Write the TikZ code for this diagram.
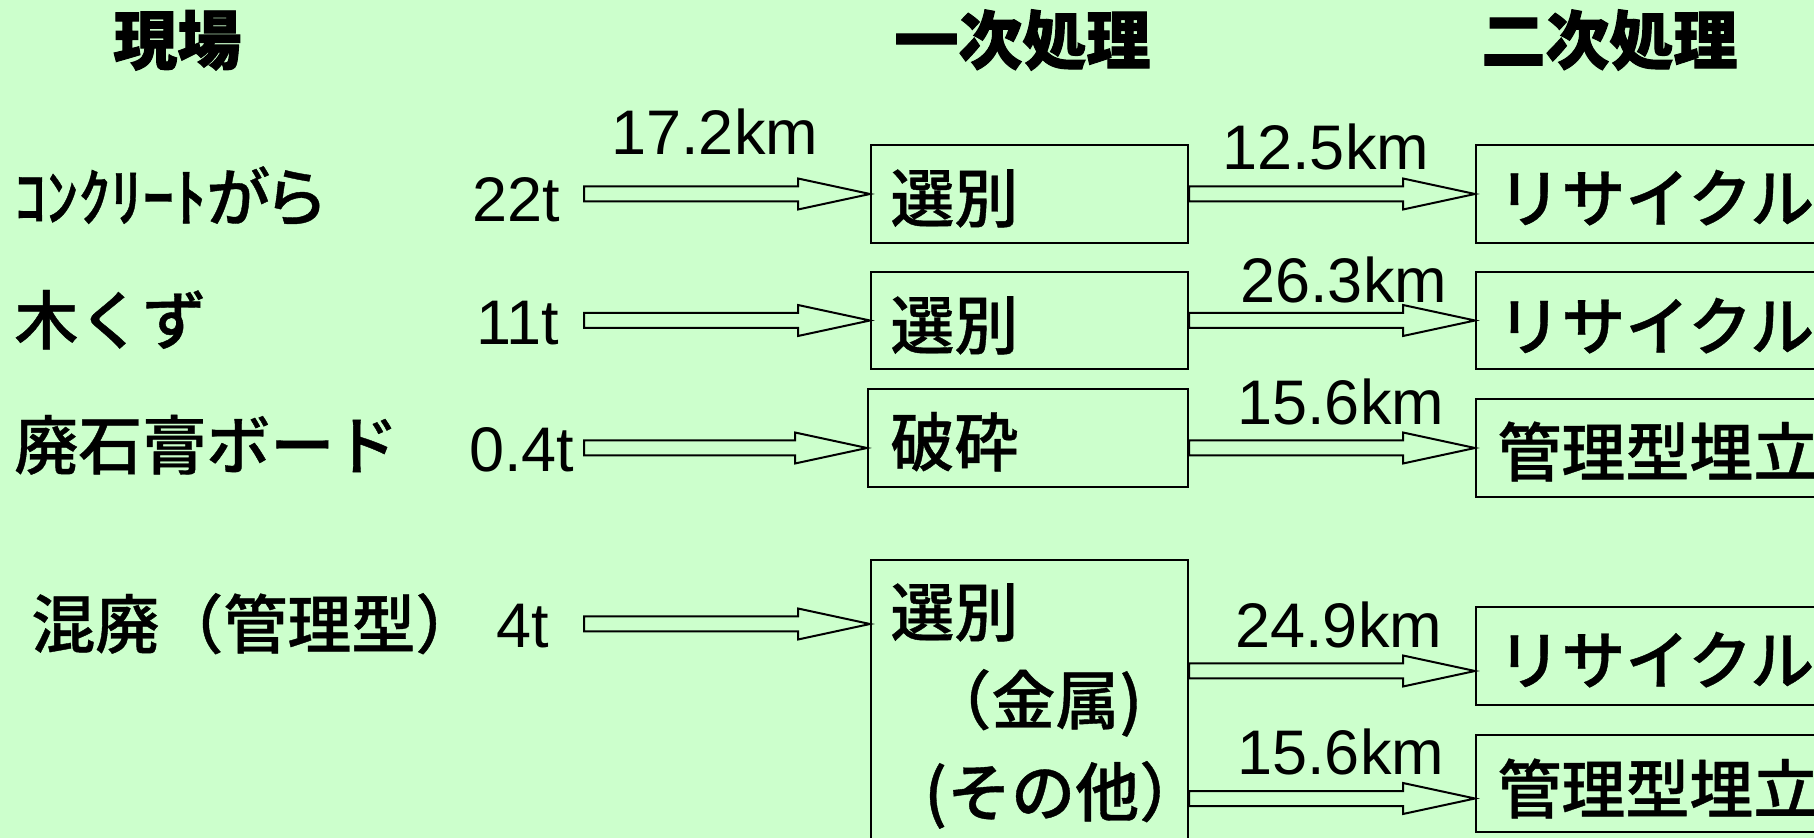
\documentclass[tikz,border=0pt]{standalone}
\usepackage{fontspec}
\setmainfont{Liberation Sans}
\newfontfamily\jp[UprightFont={* Medium},FakeBold=0.6]{Noto Sans CJK JP}
\newfontfamily\jph[BoldFeatures={FakeBold=1.5}]{Noto Sans CJK JP}
\newfontfamily\jpp[UprightFont={* Medium},FakeBold=0.6,RawFeature=+palt]{Noto Sans CJK JP}
\usetikzlibrary{calc}
\definecolor{bg}{HTML}{CCFFCC}
\newcommand{\blockarrow}[2]{%
  \draw[barrow] ($(#1)+(0,-7.5)$) -- ($(#2)+(-72,-7.5)$) -- ($(#2)+(-72,-15.5)$) -- (#2)
    -- ($(#2)+(-72,15.5)$) -- ($(#2)+(-72,7.5)$) -- ($(#1)+(0,7.5)$) -- cycle;}
\tikzset{
  box/.style={draw=black, line width=1pt, rectangle, inner sep=0pt},
  barrow/.style={draw=black, line width=1pt, line join=miter},
  hdr/.style={inner sep=0pt, anchor=base west, font=\jph\bfseries\fontsize{32}{38}\selectfont},
  jt/.style={inner sep=0pt, anchor=base west, font=\jp\fontsize{32}{38}\selectfont},
  num/.style={inner sep=0pt, anchor=base west, font=\fontsize{31.5}{36}\selectfont},
}
\begin{document}
\begin{tikzpicture}[x=0.5pt,y=-0.5pt]
\useasboundingbox (0,0) rectangle (1814,838);
\clip (0,0) rectangle (1814,838);
\fill[bg] (0,0) rectangle (1814,838);

% headers
\node[hdr] (h1) at (113,64) {現場};
\node[hdr] (h2) at (894,64) {一次処理};
\node[hdr] (h3) at (1481,64) {二次処理};

% left labels
\node[jt] (l1) at (14,221) {{\jpp ｺﾝｸﾘｰﾄがら}};
\node[jt] (l2) at (14,344) {木くず};
\node[jt] (l3) at (14,469) {廃石膏ボード};
\node[jt] (l4) at (31,648) {混廃（管理型）};

% weights
\node[num] (w1) at (472,222) {22t};
\node[num] (w2) at (476,345) {11t};
\node[num] (w3) at (469,472) {0.4t};
\node[num] (w4) at (496,647) {4t};

% primary boxes
\node[box, minimum width=158.5pt, minimum height=49pt] (b1) at (1029.5,194) {};
\node[box, minimum width=158.5pt, minimum height=48.5pt] (b2) at (1029.5,320.5) {};
\node[box, minimum width=160pt, minimum height=49pt] (b3) at (1028,438) {};
\node[box, minimum width=158.5pt, minimum height=170pt] (b4) at (1029.5,730) {};

\node[jt] (t1) at (890,222) {選別};
\node[jt] (t2) at (890,349) {選別};
\node[jt] (t3) at (890,466) {破砕};
\node[jt] (t4) at (890,636) {選別};
\node[jt] (t5) at (927,724) {（金属)};
\node[jt] (t6) at (924,816) {(その他）};

% secondary boxes
\node[box, minimum width=200pt, minimum height=49pt] (r1) at (1676,194) {};
\node[box, minimum width=200pt, minimum height=48.5pt] (r2) at (1676,320.5) {};
\node[box, minimum width=200pt, minimum height=49pt] (r3) at (1676,448) {};
\node[box, minimum width=200pt, minimum height=49pt] (r4) at (1676,656) {};
\node[box, minimum width=200pt, minimum height=48.5pt] (r5) at (1676,783.5) {};

\node[jt] (u1) at (1497,222) {リサイクル};
\node[jt] (u2) at (1497,350) {リサイクル};
\node[jt] (u3) at (1497,476) {管理型埋立};
\node[jt] (u4) at (1497,684) {リサイクル};
\node[jt] (u5) at (1497,813) {管理型埋立};

% distances
\node[num] (k1) at (611,155) {17.2km};
\node[num] (k2) at (1222,170) {12.5km};
\node[num] (k3) at (1240,303) {26.3km};
\node[num] (k4) at (1237,425) {15.6km};
\node[num] (k5) at (1235,647) {24.9km};
\node[num] (k6) at (1237,774) {15.6km};

% arrow end points
\coordinate (s1) at (584,194);
\coordinate (s2) at (584,320.5);
\coordinate (s3) at (584,448);
\coordinate (s4) at (584,624);
\coordinate (e3) at (b3.west |- r3.west);
\coordinate (e4) at (b4.west |- s4);
\coordinate (f3) at (b3.east |- r3.west);
\coordinate (g4) at ($(r4.west)+(0,15)$);
\coordinate (f4) at (b4.east |- g4);
\coordinate (g5) at ($(r5.west)+(0,15)$);
\coordinate (f5) at (b4.east |- g5);

\blockarrow{s1}{b1.west}
\blockarrow{s2}{b2.west}
\blockarrow{s3}{e3}
\blockarrow{s4}{e4}
\blockarrow{b1.east}{r1.west}
\blockarrow{b2.east}{r2.west}
\blockarrow{f3}{r3.west}
\blockarrow{f4}{g4}
\blockarrow{f5}{g5}
\end{tikzpicture}
\end{document}
